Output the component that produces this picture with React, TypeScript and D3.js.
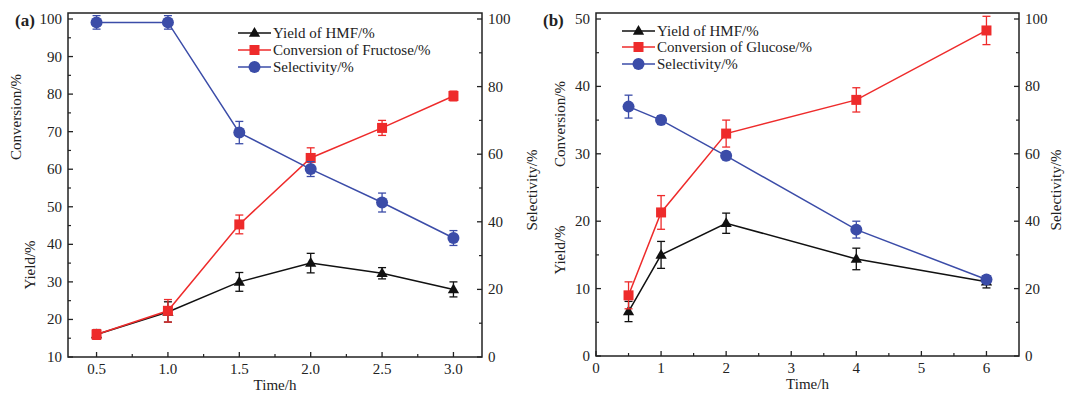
import React from "react";
import * as d3 from "d3";

// panel (a): fructose
const timeA = [0.5, 1.0, 1.5, 2.0, 2.5, 3.0];
const yieldA = [16, 22, 30, 35, 32.3, 28];
const yieldErrA = [1.3, 2.7, 2.5, 2.6, 1.5, 2];
const convA = [16, 22.3, 45.3, 63, 71, 79.5];
const convErrA = [1.3, 3, 2.5, 2.7, 2, 1.3];
const selA = [99, 99, 66.4, 55.6, 45.7, 35.2];
const selErrA = [2, 2, 3.3, 2.2, 2.8, 2.2];

// panel (b): glucose
const timeB = [0.5, 1, 2, 4, 6];
const yieldB = [6.6, 15, 19.7, 14.4, 11];
const yieldErrB = [1.5, 2, 1.5, 1.6, 0.9];
const convB = [9, 21.3, 33, 38, 48.3];
const convErrB = [2, 2.5, 2, 1.8, 2.1];
const selB = [74, 70, 59.4, 37.5, 22.7];
const selErrB = [3.4, 1.3, 1.2, 2.5, 1];

const xTicksA = [0.5, 1.0, 1.5, 2.0, 2.5, 3.0];
const xTicksB = [0, 1, 2, 3, 4, 5, 6];
const leftTicksA = [10, 20, 30, 40, 50, 60, 70, 80, 90, 100];
const leftTicksB = [0, 10, 20, 30, 40, 50];
const rightTicks = [0, 20, 40, 60, 80, 100];

const BLACK = "#111";
const RED = "#ee2b2b";
const BLUE = "#3b4ca8";
const FONT = "'Liberation Serif', 'Times New Roman', serif";

type Series = { y: number[]; err: number[]; color: string; marker: string; axis: "L" | "R" };

function Marker({ type, x, y, color }: { type: string; x: number; y: number; color: string }) {
  if (type === "tri") {
    const s = d3.symbol().type(d3.symbolTriangle).size(55)();
    return <path d={s || ""} transform={`translate(${x},${y + 0.5})`} fill={color} />;
  }
  if (type === "sq") return <rect x={x - 5} y={y - 5} width={10} height={10} fill={color} />;
  return <circle cx={x} cy={y} r={6} fill={color} />;
}

function Panel(props: {
  tag: string;
  left: number; right: number; top: number; bottom: number;
  xDomain: [number, number]; xTicks: number[]; xMinorStep: number; xFmt: (v: number) => string;
  lDomain: [number, number]; lTicks: number[];
  rDomain: [number, number];
  y100: number; // pixel of top major label
  times: number[]; series: Series[];
  legend: string[]; legX: number; legY: number[];
  convLabel: [number, number]; yieldLabel: [number, number]; selX: number;
}) {
  const p = props;
  const x = d3.scaleLinear().domain(p.xDomain).range([p.left, p.right]);
  const lMax = p.lTicks[p.lTicks.length - 1];
  const yL = d3.scaleLinear().domain([p.lDomain[0], lMax]).range([p.bottom, p.y100]);
  const yR = d3.scaleLinear().domain([p.rDomain[0], 100]).range([p.bottom, p.y100]);

  const xMinor = d3.range(p.xTicks[0] + p.xMinorStep, p.xTicks[p.xTicks.length - 1], p.xMinorStep * 2);
  const lStep = p.lTicks[1] - p.lTicks[0];
  const lMinor = p.lTicks.slice(0, -1).map((t) => t + lStep / 2);
  const rMinor = rightTicks.slice(0, -1).map((t) => t + 10);

  const line = (ys: number[], sc: d3.ScaleLinear<number, number>) =>
    d3.line<number>().x((_, i) => x(p.times[i])).y((v) => sc(v))(ys) || "";

  return (
    <g fontFamily={FONT} fill="#222">
      {/* frame */}
      <rect x={p.left} y={p.top} width={p.right - p.left} height={p.bottom - p.top} fill="none" stroke="#222" strokeWidth={1.5} />
      {/* bottom ticks */}
      {p.xTicks.map((t) => (
        <g key={"x" + t}>
          <line x1={x(t)} x2={x(t)} y1={p.bottom} y2={p.bottom - 5} stroke="#222" strokeWidth={1.3} />
          <text x={x(t)} y={p.bottom + 17} textAnchor="middle" fontSize={15}>{p.xFmt(t)}</text>
        </g>
      ))}
      {xMinor.map((t) => (
        <line key={"xm" + t} x1={x(t)} x2={x(t)} y1={p.bottom} y2={p.bottom - 3} stroke="#222" strokeWidth={1.2} />
      ))}
      {/* left ticks */}
      {p.lTicks.map((t) => (
        <g key={"l" + t}>
          <line x1={p.left} x2={p.left + 5} y1={yL(t)} y2={yL(t)} stroke="#222" strokeWidth={1.3} />
          <text x={p.left - 6} y={yL(t) + 5} textAnchor="end" fontSize={15}>{t}</text>
        </g>
      ))}
      {lMinor.map((t) => (
        <line key={"lm" + t} x1={p.left} x2={p.left + 3} y1={yL(t)} y2={yL(t)} stroke="#222" strokeWidth={1.2} />
      ))}
      {/* right ticks */}
      {rightTicks.map((t) => (
        <g key={"r" + t}>
          <line x1={p.right} x2={p.right - 5} y1={yR(t)} y2={yR(t)} stroke="#222" strokeWidth={1.3} />
          <text x={p.right + 6} y={yR(t) + 5} textAnchor="start" fontSize={15}>{t}</text>
        </g>
      ))}
      {rMinor.map((t) => (
        <line key={"rm" + t} x1={p.right} x2={p.right - 3} y1={yR(t)} y2={yR(t)} stroke="#222" strokeWidth={1.2} />
      ))}
      {/* axis titles */}
      <text transform={`translate(${p.convLabel[0]},${p.convLabel[1]}) rotate(-90)`} textAnchor="middle" fontSize={15}>Conversion/%</text>
      <text transform={`translate(${p.yieldLabel[0]},${p.yieldLabel[1]}) rotate(-90)`} textAnchor="middle" fontSize={15}>Yield/%</text>
      <text transform={`translate(${p.selX},190) rotate(-90)`} textAnchor="middle" fontSize={15}>Selectivity/%</text>
      <text x={(p.left + p.right) / 2} y={p.bottom + 33} textAnchor="middle" fontSize={15}>Time/h</text>
      <text x={p.left - 53} y={p.y100 + 7} fontSize={17} fontWeight="bold">{p.tag}</text>
      {/* series */}
      {p.series.map((s, si) => {
        const sc = s.axis === "L" ? yL : yR;
        return (
          <g key={"s" + si}>
            <path d={line(s.y, sc)} fill="none" stroke={s.color} strokeWidth={1.5} />
            {s.y.map((v, i) => {
              const cx = x(p.times[i]);
              const y1 = sc(v - s.err[i]);
              const y2 = sc(v + s.err[i]);
              return (
                <g key={i} stroke={s.color} strokeWidth={1.3}>
                  <line x1={cx} x2={cx} y1={y1} y2={y2} />
                  <line x1={cx - 4} x2={cx + 4} y1={y1} y2={y1} />
                  <line x1={cx - 4} x2={cx + 4} y1={y2} y2={y2} />
                </g>
              );
            })}
            {s.y.map((v, i) => (
              <Marker key={"m" + i} type={s.marker} x={x(p.times[i])} y={sc(v)} color={s.color} />
            ))}
          </g>
        );
      })}
      {/* legend */}
      {p.series.map((s, i) => (
        <g key={"lg" + i}>
          <line x1={p.legX} x2={p.legX + 33} y1={p.legY[i]} y2={p.legY[i]} stroke={s.color} strokeWidth={1.5} />
          <Marker type={s.marker} x={p.legX + 16.5} y={p.legY[i]} color={s.color} />
          <text x={p.legX + 35} y={p.legY[i] + 5} fontSize={15}>{p.legend[i]}</text>
        </g>
      ))}
    </g>
  );
}

export default function App() {
  const seriesA: Series[] = [
    { y: yieldA, err: yieldErrA, color: BLACK, marker: "tri", axis: "L" },
    { y: convA, err: convErrA, color: RED, marker: "sq", axis: "L" },
    { y: selA, err: selErrA, color: BLUE, marker: "circ", axis: "R" },
  ];
  const seriesB: Series[] = [
    { y: yieldB, err: yieldErrB, color: BLACK, marker: "tri", axis: "L" },
    { y: convB, err: convErrB, color: RED, marker: "sq", axis: "L" },
    { y: selB, err: selErrB, color: BLUE, marker: "circ", axis: "R" },
  ];
  return (
    <svg width={1065} height={394} style={{ position: "absolute", left: 0, top: 0, background: "#fff" }}>
      <Panel
        tag="(a)" left={68} right={482} top={13} bottom={357}
        xDomain={[0.3, 3.2]} xTicks={xTicksA} xMinorStep={0.25} xFmt={(v) => v.toFixed(1)}
        lDomain={[10, 101.6]} lTicks={leftTicksA} rDomain={[0, 101.8]} y100={19}
        times={timeA} series={seriesA}
        legend={["Yield of HMF/%", "Conversion of Fructose/%", "Selectivity/%"]}
        legX={238} legY={[33, 50, 67]}
        convLabel={[21, 117]} yieldLabel={[35, 265]} selX={537}
      />
      <Panel
        tag="(b)" left={596} right={1019} top={13} bottom={356}
        xDomain={[0, 6.5]} xTicks={xTicksB} xMinorStep={0.5} xFmt={(v) => String(v)}
        lDomain={[0, 50.85]} lTicks={leftTicksB} rDomain={[0, 101.7]} y100={19}
        times={timeB} series={seriesB}
        legend={["Yield of HMF/%", "Conversion of Glucose/%", "Selectivity/%"]}
        legX={622} legY={[31, 47, 64]}
        convLabel={[565, 124]} yieldLabel={[565, 250]} selX={1061}
      />
    </svg>
  );
}
